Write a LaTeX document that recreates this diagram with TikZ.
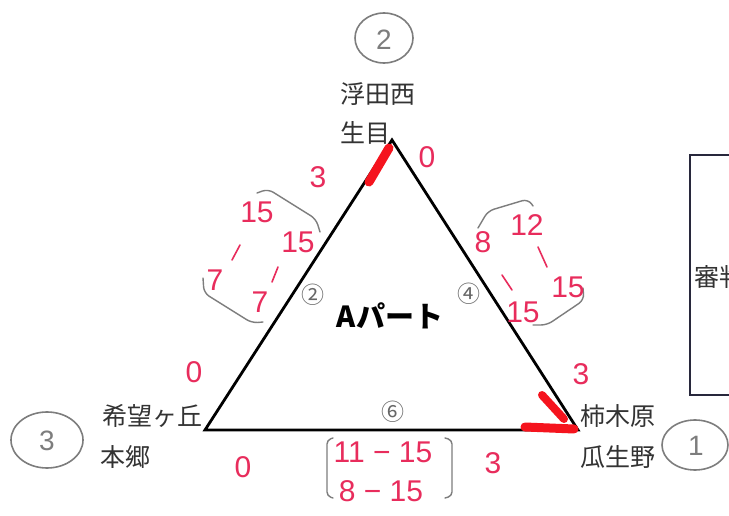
\documentclass[tikz,border=0pt]{standalone}
\usepackage{fontspec}
\usetikzlibrary{shapes.geometric}
\newfontfamily\jp{Noto Sans CJK JP}
\newfontfamily\hand{Liberation Sans}
\definecolor{handred}{RGB}{232,44,92}
\definecolor{markred}{RGB}{245,20,30}
\definecolor{pencil}{RGB}{125,125,125}
\definecolor{boxline}{RGB}{40,40,60}
\begin{document}
\begin{tikzpicture}[x=1pt,y=-1pt,
  jptext/.style={font=\jp\fontsize{25}{25}\selectfont, inner sep=0pt, text=black!80},
  circnum/.style={font=\jp\fontsize{23}{23}\selectfont, inner sep=0pt, text=black!60},
  redtext/.style={font=\hand\fontsize{30}{30}\selectfont, inner sep=0pt, text=handred},
  redstroke/.style={draw=handred, line width=1.6pt, line cap=round},
  marker/.style={draw=markred, line width=9pt, line cap=round, line join=round},
  pencilline/.style={draw=pencil, line width=1.4pt, rounded corners=6pt, line cap=round},
  pencilcirc/.style={draw=pencil, line width=1.6pt, ellipse},
  handnum/.style={font=\hand\fontsize{28}{28}\selectfont, inner sep=0pt, text=pencil}
]
\useasboundingbox (0,0) rectangle (729,516);
\clip (0,0) rectangle (729,516);
\fill[white] (0,0) rectangle (729,516);

% right box (cut by the edge)
\draw[boxline, line width=1.5pt] (690,155) rectangle (760,395);
\node[jptext, anchor=west, font=\jp\fontsize{25}{25}\selectfont] (shinpan) at (694,277) {審判};

% triangle vertices
\coordinate (T) at (392,140);
\coordinate (L) at (205,430);
\coordinate (R) at (578,430);
\draw[line width=2.8pt, line join=miter] (T) -- (L) -- (R) -- cycle;

% red marker strokes
\coordinate (m1a) at (389,148);
\coordinate (m1b) at (369,182);
\draw[marker] (m1a) -- (m1b);
\coordinate (m2a) at (542,395);
\coordinate (m2b) at (564,419);
\coordinate (m3a) at (525,427);
\coordinate (m3b) at (574,429);
\draw[marker, line width=8pt] (m2a) -- (m2b);
\draw[marker, line width=9pt] (m3a) -- (m3b);

% place names
\node[jptext, anchor=west] (top1) at (340,94) {浮田西};
\node[jptext, anchor=west] (top2) at (340,133) {生目};
\node[jptext, anchor=east] (left1) at (203,416) {希望ヶ丘};
\node[jptext, anchor=west] (left2) at (100,457) {本郷};
\node[jptext, anchor=west] (right1) at (580,416) {柿木原};
\node[jptext, anchor=west] (right2) at (580,457) {瓜生野};

% title
\node[font=\jp\bfseries\fontsize{29}{29}\selectfont, inner sep=0pt] (title) at (390,316) {Aパート};

% circled numbers on edges
\node[circnum] (c2) at (313,295) {②};
\node[circnum] (c4) at (469,294) {④};
\node[circnum] (c6) at (393,412) {⑥};

% pencil circles
\node[pencilcirc, minimum width=58pt, minimum height=50pt] (p2) at (384,38) {};
\node[handnum] (n2) at (384,40) {2};
\node[pencilcirc, minimum width=72pt, minimum height=56pt] (p3) at (47,440) {};
\node[handnum] (n3) at (47,441) {3};
\node[pencilcirc, minimum width=66pt, minimum height=50pt] (p1) at (695,445) {};
\node[handnum] (n1) at (696,446) {1};

% red numbers at corners
\node[redtext] (r3a) at (318,177) {3};
\node[redtext] (r0a) at (427,157) {0};
\node[redtext] (r0b) at (194,372) {0};
\node[redtext] (r3b) at (581,374) {3};
\node[redtext] (r0c) at (243,467) {0};
\node[redtext] (r3c) at (493,463) {3};

% left edge group
\draw[pencilline] (257,193) -- (268,189) -- (316,219) -- (320,232);
\draw[pencilline] (203,278) -- (204,293) -- (252,323) -- (263,322);
\node[redtext] (l15a) at (257,212) {15};
\node[redtext] (l15b) at (298,242) {15};
\node[redtext] (l7a) at (215,280) {7};
\node[redtext] (l7b) at (260,302) {7};
\coordinate (ls1a) at (240,245);
\coordinate (ls1b) at (232,260);
\coordinate (ls2a) at (278,267);
\coordinate (ls2b) at (272,282);
\draw[redstroke] (ls1a) -- (ls1b);
\draw[redstroke] (ls2a) -- (ls2b);

% right edge group
\draw[pencilline] (478,228) -- (488,211) -- (528,199) -- (533,206);
\draw[pencilline] (583,288) -- (584,300) -- (547,325) -- (533,325);
\node[redtext] (r8) at (483,242) {8};
\node[redtext] (r12) at (527,225) {12};
\node[redtext] (r15a) at (523,312) {15};
\node[redtext] (r15b) at (568,287) {15};
\coordinate (rs1a) at (502,275);
\coordinate (rs1b) at (512,290);
\coordinate (rs2a) at (538,247);
\coordinate (rs2b) at (547,267);
\draw[redstroke] (rs1a) -- (rs1b);
\draw[redstroke] (rs2a) -- (rs2b);

% bottom group
\draw[pencilline, rounded corners=4pt] (333,438) -- (327,440) -- (327,496) -- (333,498);
\draw[pencilline, rounded corners=4pt] (445,438) -- (452,440) -- (452,496) -- (445,498);
\node[redtext] (b1) at (383,452) {11 − 15};
\node[redtext] (b2) at (381,491) {8 − 15};
\end{tikzpicture}
\end{document}
